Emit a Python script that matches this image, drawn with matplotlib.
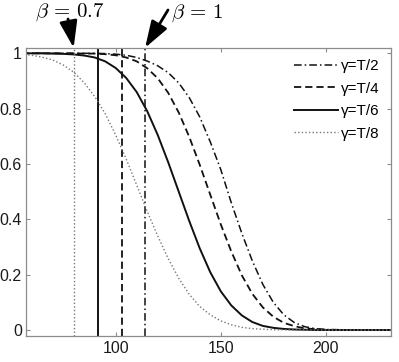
import matplotlib
matplotlib.use('Agg')
from matplotlib import pyplot as plt

# sample positions and curve values
x = [55, 60, 65, 70, 75, 80, 85, 90, 95, 100, 105, 110, 115, 120, 125, 130,
     135, 140, 145, 150, 155, 160, 165, 170, 175, 180, 185, 190, 195, 200, 215, 232]

y_t2 = [1.000, 1.000, 1.000, 1.000, 1.000, 1.000, 1.000, 1.000, 0.999, 0.997,
        0.993, 0.985, 0.972, 0.955, 0.930, 0.893, 0.840, 0.770, 0.680, 0.580,
        0.460, 0.350, 0.250, 0.165, 0.100, 0.055, 0.027, 0.012, 0.005, 0.002, 0, 0]
y_t4 = [1.000, 1.000, 1.000, 1.000, 1.000, 1.000, 0.999, 0.999, 0.997, 0.993,
        0.985, 0.971, 0.946, 0.910, 0.857, 0.786, 0.698, 0.597, 0.489, 0.382,
        0.284, 0.198, 0.131, 0.082, 0.048, 0.026, 0.014, 0.006, 0.003, 0.001, 0, 0]
y_t6 = [1.000, 1.000, 1.000, 0.999, 0.998, 0.996, 0.992, 0.985, 0.971, 0.947,
        0.911, 0.860, 0.791, 0.705, 0.606, 0.500, 0.394, 0.295, 0.209, 0.140,
        0.089, 0.053, 0.029, 0.015, 0.008, 0.004, 0.002, 0.001, 0, 0, 0, 0]
y_t8 = [0.996, 0.993, 0.986, 0.976, 0.958, 0.932, 0.894, 0.844, 0.782, 0.705,
        0.618, 0.524, 0.429, 0.340, 0.258, 0.187, 0.129, 0.085, 0.055, 0.033,
        0.019, 0.010, 0.005, 0.003, 0.001, 0.001, 0, 0, 0, 0, 0, 0]

labels = ['γ=T/2', 'γ=T/4', 'γ=T/6', 'γ=T/8']
beta_lines = [114, 103, 91.4, 80]   # vertical markers, same order as labels
beta_text = ['$\\beta\\,=\\,0.7$', '$\\beta\\,=\\,1$']
beta_at = [80, 114]

plt.rcParams['font.family'] = ['Liberation Sans', 'DejaVu Sans']
plt.rcParams['mathtext.fontset'] = 'cm'

fig = plt.figure(figsize=(3.99, 3.62), dpi=100)
ax = fig.add_axes([0.065, 0.073, 0.915, 0.795])

styles = [dict(color='#111111', lw=1.1, ls=(0, (5, 2, 1, 2))),
          dict(color='#111111', lw=1.3, ls=(0, (4, 2.2))),
          dict(color='#111111', lw=1.4, ls='-'),
          dict(color='#777777', lw=1.0, ls=(0, (1, 1.6)))]

for ys, lab, st, xb in zip([y_t2, y_t4, y_t6, y_t8], labels, styles, beta_lines):
    ax.plot(x, ys, label=lab, **st)
    ax.axvline(xb, **st)

ax.set_xlim(57.3, 231)
ax.set_ylim(-0.02, 1.02)
ax.set_xticks([100, 150, 200])
ax.set_yticks([0, 0.2, 0.4, 0.6, 0.8, 1])
ax.set_yticklabels(['0', '0.2', '0.4', '0.6', '0.8', '1'])
ax.tick_params(direction='in', top=True, right=True, length=3, width=0.8,
               color='#8c8c8c', labelsize=11.5, labelcolor='#1a1a1a')
ax.tick_params(axis='x', pad=4)
ax.tick_params(axis='y', pad=3)
for sp in ax.spines.values():
    sp.set_color('#8c8c8c')
    sp.set_linewidth(0.9)

ax.legend(loc='upper right', bbox_to_anchor=(0.968, 0.96), frameon=False,
          fontsize=11, handlelength=2.9, handletextpad=0.15,
          labelspacing=0.55, borderpad=0, borderaxespad=0)

# beta annotations with arrows
starts = [(68, 343), (168, 352)]
text_left = [(35, 350), (171, 349)]
for txt, xb, st, tp in zip(beta_text, beta_at, starts, text_left):
    fig.text(tp[0] / 399, tp[1] / 362, txt, fontsize=15, ha='left', va='center')
    ax.annotate('', xy=(xb, 1.02), xycoords='data', xytext=st,
                textcoords='figure pixels', annotation_clip=False,
                arrowprops=dict(arrowstyle='-|>,head_width=0.3,head_length=0.9',
                                lw=2, color='k', shrinkA=0, shrinkB=0,
                                mutation_scale=18))

fig.savefig('out.png', dpi=100)
